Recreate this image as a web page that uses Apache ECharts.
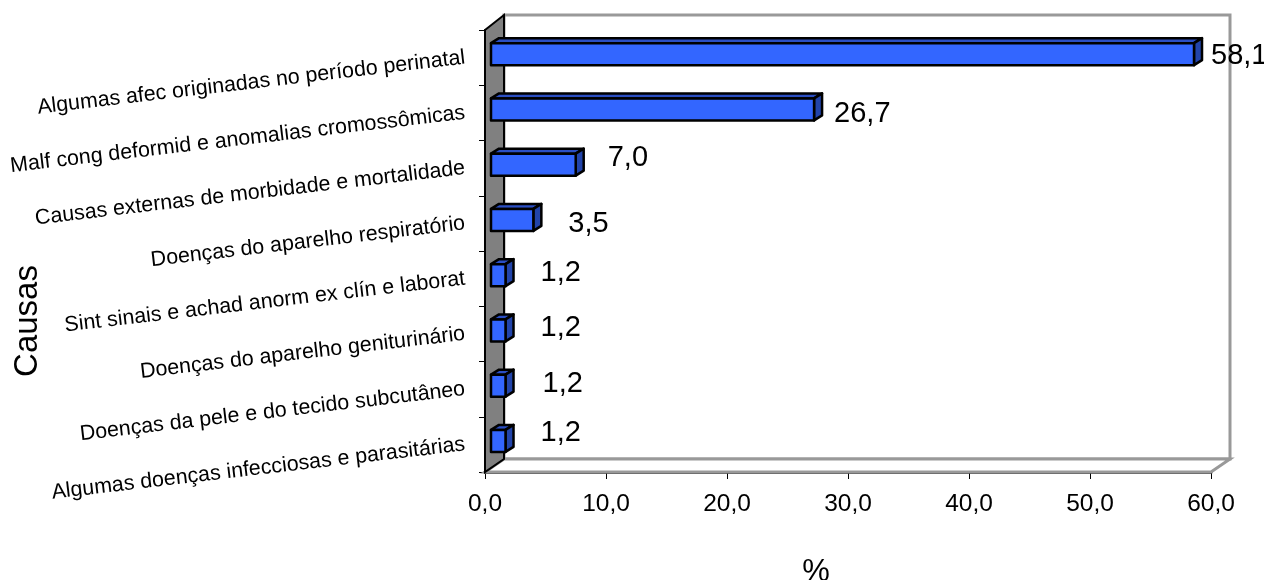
<!DOCTYPE html>
<html>
<head>
<meta charset="utf-8">
<title>Causas</title>
<style>
  html, body { margin: 0; padding: 0; background: #fff; }
  #chart { width: 1264px; height: 580px; }
</style>
<script src="https://cdn.jsdelivr.net/npm/echarts@6/dist/echarts.min.js"></script>
</head>
<body>
<div id="chart"></div>
<script>
const categories = [
  'Algumas afec originadas no período perinatal',
  'Malf cong deformid e anomalias cromossômicas',
  'Causas externas de morbidade e mortalidade',
  'Doenças do aparelho respiratório',
  'Sint sinais e achad anorm ex clín e laborat',
  'Doenças do aparelho geniturinário',
  'Doenças da pele e do tecido subcutâneo',
  'Algumas doenças infecciosas e parasitárias'
]
const percentValues = [58.1, 26.7, 7.0, 3.5, 1.2, 1.2, 1.2, 1.2]
const valueTicks = [0, 10, 20, 30, 40, 50, 60]

// the labels were placed by hand in the original, so they do not line up
const labelNudge = [[9, -2], [12, 1], [24, -10], [27, 1], [27, -6], [27, -6], [29, -5], [27, -11]]

const wallShift = 19
const wallRiseTop = 15
const wallRiseBottom = 13
const barDepth = [8, -5]
const barInset = 6
const barShift = -3.5
const barHeight = 22

const chart = echarts.init(document.getElementById('chart'))

function comma(v) {
  return v.toFixed(1).replace('.', ',')
}

function renderWalls(params, api) {
  const box = params.coordSys
  const l = box.x
  const r = box.x + box.width
  const t = box.y
  const b = box.y + box.height
  const bx = l + wallShift
  const rx = r + wallShift
  const ty = t - wallRiseTop
  const by = b - wallRiseBottom
  return {
    type: 'group',
    children: [
      {
        type: 'rect',
        shape: { x: bx, y: ty, width: rx - bx, height: by - ty },
        style: { fill: '#fff', stroke: '#999', lineWidth: 3 }
      },
      {
        type: 'polygon',
        shape: { points: [[l, b], [bx, by], [rx, by], [r, b]] },
        style: { fill: '#fff', stroke: '#999', lineWidth: 3 }
      },
      {
        type: 'polygon',
        shape: { points: [[l, t], [bx, ty], [bx, by], [l, b]] },
        style: { fill: '#808080', stroke: '#000', lineWidth: 2 }
      }
    ]
  }
}

function renderBar(params, api) {
  const end = api.coord([api.value(0), api.value(1)])
  const zero = api.coord([0, api.value(1)])
  const x0 = zero[0] + barInset
  const x1 = end[0] + barInset
  const y1 = end[1] + barShift - barHeight / 2
  const y2 = y1 + barHeight
  const dx = barDepth[0]
  const dy = barDepth[1]
  const edge = { stroke: '#000', lineWidth: 2.5, lineJoin: 'round' }
  const nudge = labelNudge[params.dataIndex]
  return {
    type: 'group',
    children: [
      {
        type: 'polygon',
        shape: { points: [[x0, y1], [x0 + dx, y1 + dy], [x1 + dx, y1 + dy], [x1, y1]] },
        style: Object.assign({ fill: '#2b4fc4' }, edge)
      },
      {
        type: 'polygon',
        shape: { points: [[x1, y1], [x1 + dx, y1 + dy], [x1 + dx, y2 + dy], [x1, y2]] },
        style: Object.assign({ fill: '#2244aa' }, edge)
      },
      {
        type: 'rect',
        shape: { x: x0, y: y1, width: x1 - x0, height: y2 - y1 },
        style: Object.assign({ fill: '#3366ff' }, edge)
      },
      {
        type: 'text',
        style: {
          x: x1 + dx + nudge[0],
          y: end[1] + nudge[1],
          text: comma(api.value(0)),
          fill: '#000',
          font: '29px "Liberation Sans"',
          align: 'left',
          verticalAlign: 'middle'
        }
      }
    ]
  }
}

chart.setOption({
  animation: false,
  backgroundColor: '#fff',
  grid: { left: 485, right: 53, top: 30, bottom: 108, outerBoundsMode: 'none' },
  xAxis: {
    type: 'value',
    min: valueTicks[0],
    max: valueTicks[valueTicks.length - 1],
    interval: 10,
    name: '%',
    nameLocation: 'middle',
    nameGap: 85,
    nameTextStyle: {
      color: '#000',
      fontSize: 31,
      fontFamily: 'Liberation Sans',
      padding: [0, 64, 0, 0]
    },
    splitLine: { show: false },
    axisLine: { show: true, lineStyle: { color: '#444', width: 3 } },
    axisTick: { show: true, length: 7, lineStyle: { color: '#000', width: 1 } },
    axisLabel: {
      color: '#000',
      fontSize: 24.5,
      fontFamily: 'Liberation Sans',
      margin: 20,
      formatter: v => comma(v)
    }
  },
  yAxis: {
    type: 'category',
    data: categories,
    inverse: true,
    name: 'Causas',
    nameLocation: 'middle',
    nameGap: 441,
    nameRotate: 90,
    nameMoveOverlap: false,
    nameTextStyle: {
      color: '#000',
      fontSize: 33,
      fontFamily: 'Liberation Sans',
      padding: [0, 140, 0, 0]
    },
    axisLine: { show: true, lineStyle: { color: '#000', width: 2 } },
    axisTick: { show: true, length: 6, alignWithLabel: false, lineStyle: { color: '#000', width: 1 } },
    axisLabel: {
      color: '#000',
      fontSize: 21.4,
      fontFamily: 'Liberation Sans',
      rotate: 6.7,
      margin: 20,
      padding: [3, 0, 0, 0],
      interval: 0
    }
  },
  series: [
    {
      type: 'custom',
      z: 1,
      silent: true,
      clip: false,
      renderItem: renderWalls,
      data: [[0, 0]]
    },
    {
      type: 'custom',
      z: 3,
      silent: true,
      clip: false,
      renderItem: renderBar,
      encode: { x: 0, y: 1 },
      data: percentValues.map((v, i) => [v, i])
    }
  ]
})
</script>
</body>
</html>
